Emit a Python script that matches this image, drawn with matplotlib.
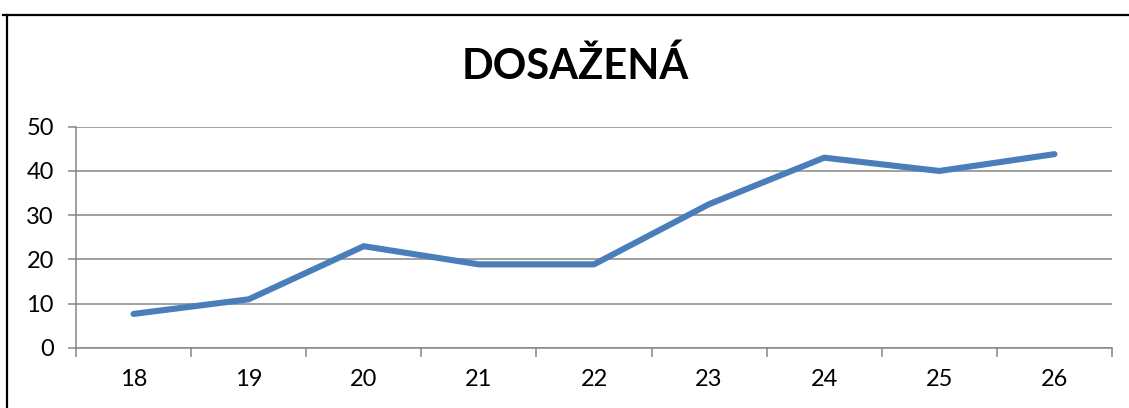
import matplotlib
matplotlib.use("Agg")
import matplotlib.pyplot as plt
from matplotlib.lines import Line2D
from matplotlib.ticker import FixedLocator, NullFormatter

categories = ["18", "19", "20", "21", "22", "23", "24", "25", "26"]
values = [7.7, 11.0, 23.0, 18.9, 18.9, 32.5, 43.0, 40.0, 43.8]
y_ticks = [0, 10, 20, 30, 40, 50]
title = "DOSAŽENÁ"

plt.rcParams["font.family"] = ["Lato", "DejaVu Sans"]

fig = plt.figure(figsize=(11.29, 4.08), dpi=100)
ax = fig.add_axes([76 / 1129, 60 / 408, (1112 - 76) / 1129, (348 - 126.7) / 408])

x = list(range(len(categories)))
ax.plot(x, values, color="#4a7ebb", linewidth=4.4, solid_capstyle="round",
        solid_joinstyle="round", zorder=3)

ax.set_xlim(-0.5, len(categories) - 0.5)
ax.set_ylim(0, 50)
ax.set_yticks(y_ticks)
ax.set_yticklabels([str(t) for t in y_ticks])

# category boundaries carry the tick marks, labels sit between them
ax.xaxis.set_major_locator(FixedLocator([i - 0.5 for i in range(len(categories) + 1)]))
ax.xaxis.set_major_formatter(NullFormatter())
ax.xaxis.set_minor_locator(FixedLocator(x))
ax.set_xticklabels(categories, minor=True)
ax.tick_params(axis="x", which="major", direction="out", length=6.5, width=1.1, color="#868686")
ax.tick_params(axis="x", which="minor", length=0, pad=15, labelsize=17)
ax.tick_params(axis="y", direction="out", length=6, width=1.1, color="#868686",
               pad=10, labelsize=17)

ax.grid(axis="y", color="#868686", linewidth=1.1)
ax.set_axisbelow(True)
for side in ["top", "right"]:
    ax.spines[side].set_visible(False)
for side in ["left", "bottom"]:
    ax.spines[side].set_color("#868686")
    ax.spines[side].set_linewidth(1.1)

fig.text(575 / 1129, 1 - 66 / 408, title, ha="center", va="center",
         fontsize=30, fontweight="bold")

# outer chart frame (only top and left edges are visible in the crop)
fig.add_artist(Line2D([3 / 1129, 1], [1 - 14.5 / 408] * 2, transform=fig.transFigure,
                      color="black", linewidth=1.6))
fig.add_artist(Line2D([6.5 / 1129] * 2, [0, 1 - 14.5 / 408], transform=fig.transFigure,
                      color="black", linewidth=1.6))

fig.savefig("out.png", dpi=100)
